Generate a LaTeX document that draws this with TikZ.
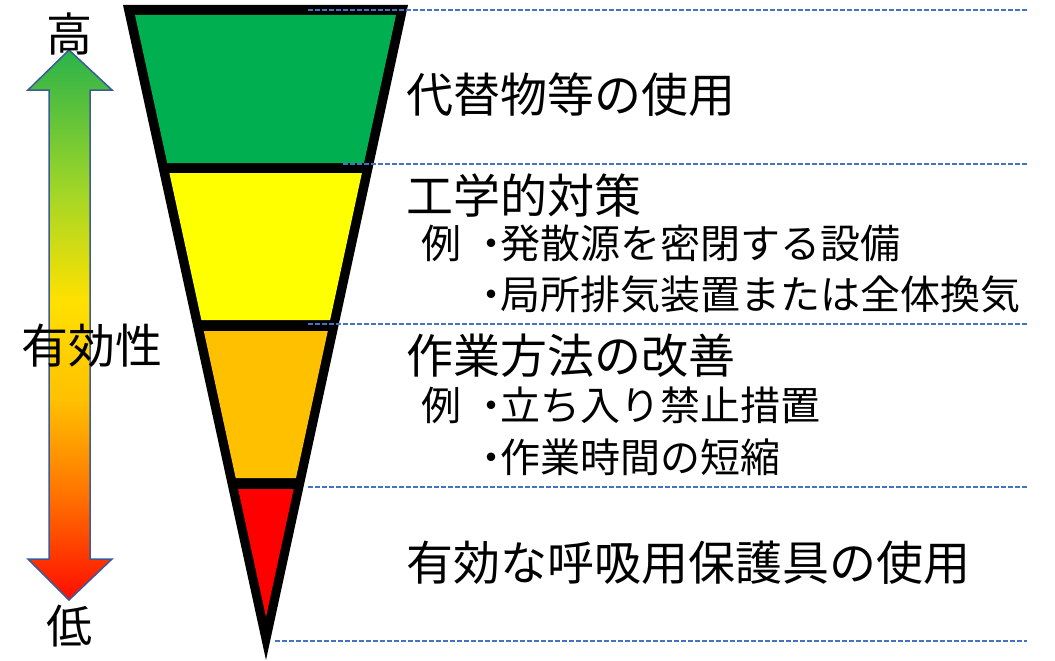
\documentclass[tikz,border=0pt]{standalone}
\usepackage{fontspec}
\newfontfamily\jp{Noto Sans CJK JP}
\definecolor{bandgreen}{HTML}{00B050}
\definecolor{bandyellow}{HTML}{FFFF00}
\definecolor{bandorange}{HTML}{FFC000}
\definecolor{bandred}{HTML}{FF0000}
\definecolor{guideblue}{HTML}{4472C4}
\definecolor{arrowline}{HTML}{3A5A9A}
\definecolor{gA}{RGB}{40,178,74}
\definecolor{gB}{RGB}{160,214,40}
\definecolor{gC}{RGB}{255,225,0}
\definecolor{gD}{RGB}{255,192,0}
\definecolor{gE}{RGB}{255,110,0}
\definecolor{gF}{RGB}{255,10,0}
\begin{document}
\begin{tikzpicture}[x=1pt,y=-1pt,
  head/.style={font=\jp\fontsize{47}{47}\selectfont, anchor=base west, inner sep=0pt},
  sub/.style={font=\jp\fontsize{40}{40}\selectfont, anchor=base west, inner sep=0pt},
  bullet/.style={font=\jp\fontsize{40}{40}\selectfont, anchor=base, inner sep=0pt},
  side/.style={font=\jp\fontsize{46}{46}\selectfont, inner sep=0pt},
  guide/.style={draw=guideblue, line width=1.1pt, dash pattern=on 4.5pt off 2.5pt}]
\useasboundingbox (0,0) rectangle (1055,661);
\fill[white] (0,0) rectangle (1055,661);

% gradient double arrow
\begin{scope}
\clip (69,50) -- (112,90) -- (90,90) -- (90,559) -- (112,559) -- (69,600) -- (28,559) -- (49,559) -- (49,90) -- (28,90) -- cycle;
\shade[top color=gA, bottom color=gB] (20,48) rectangle (120,190.6);
\shade[top color=gB, bottom color=gC] (20,190) rectangle (120,300.6);
\shade[top color=gC, bottom color=gD] (20,300) rectangle (120,400.6);
\shade[top color=gD, bottom color=gE] (20,400) rectangle (120,500.6);
\shade[top color=gE, bottom color=gF] (20,500) rectangle (120,602);
\end{scope}
\draw[arrowline, line width=1.5pt, line join=miter] (69,50) -- (112,90) -- (90,90) -- (90,559) -- (112,559) -- (69,600) -- (28,559) -- (49,559) -- (49,90) -- (28,90) -- cycle;

\node[side] (high) at (69,34) {高};
\node[side] (low) at (69,626) {低};
\node[side, font=\jp\fontsize{47}{47}\selectfont] (eff) at (92,346) {有効性};

% inverted triangle
\fill[black] (123,5) -- (408,5) -- (266,660) -- cycle;
\fill[bandgreen] (135,15) -- (396,15) -- (364.0,163) -- (167.2,163) -- cycle;
\fill[bandyellow] (169.4,173) -- (361.9,173) -- (330.1,320) -- (201.4,320) -- cycle;
\fill[bandorange] (203.8,331) -- (327.8,331) -- (296.0,478) -- (235.7,478) -- cycle;
\fill[bandred] (238.1,489) -- (293.7,489) -- (266,617) -- cycle;

% guide lines
\coordinate (g1a) at (308,10);  \coordinate (g1b) at (1027,10);
\coordinate (g2a) at (343,164); \coordinate (g2b) at (1027,164);
\coordinate (g3a) at (308,324); \coordinate (g3b) at (1027,324);
\coordinate (g4a) at (308,487); \coordinate (g4b) at (1027,487);
\coordinate (g5a) at (275,641); \coordinate (g5b) at (1027,641);
\draw[guide] (g1a) -- (g1b);
\draw[guide] (g2a) -- (g2b);
\draw[guide] (g3a) -- (g3b);
\draw[guide] (g4a) -- (g4b);
\draw[guide] (g5a) -- (g5b);

% texts
\node[head] (t1) at (406,112) {代替物等の使用};
\node[head] (t2) at (406,213) {工学的対策};
\node[sub] (t2e) at (421,258) {例};
\node[bullet] (t2ad) at (491,258) {・};
\node[sub] (t2a) at (500,258) {発散源を密閉する設備};
\node[bullet] (t2bd) at (491,309) {・};
\node[sub] (t2b) at (500,309) {局所排気装置または全体換気};
\node[head] (t3) at (406,373) {作業方法の改善};
\node[sub] (t3e) at (421,420) {例};
\node[bullet] (t3ad) at (491,420) {・};
\node[sub] (t3a) at (500,420) {立ち入り禁止措置};
\node[bullet] (t3bd) at (491,472) {・};
\node[sub] (t3b) at (500,472) {作業時間の短縮};
\node[head] (t4) at (406,580) {有効な呼吸用保護具の使用};
\end{tikzpicture}
\end{document}
